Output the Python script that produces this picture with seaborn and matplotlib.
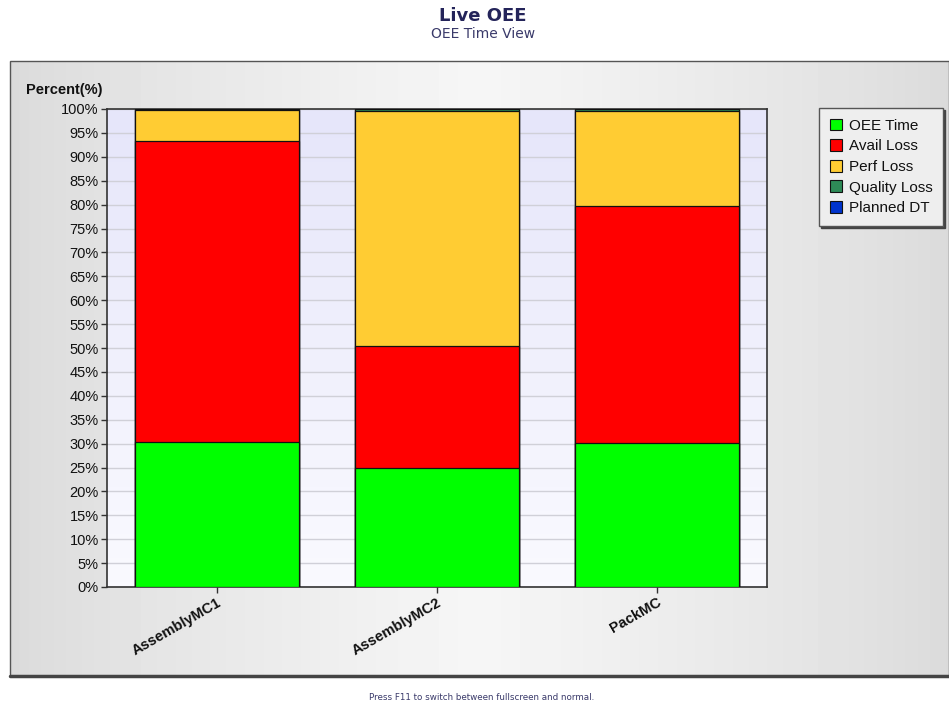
import numpy as np
import pandas as pd
import matplotlib
matplotlib.use("Agg")
import matplotlib.pyplot as plt
from matplotlib.patches import Rectangle, Patch
import seaborn as sns

# ---- data ----
machines = ["AssemblyMC1", "AssemblyMC2", "PackMC"]
series_names = ["OEE Time", "Avail Loss", "Perf Loss", "Quality Loss", "Planned DT"]
oee_time = [30.3, 24.9, 30.1]
avail_loss = [63.0, 25.5, 49.6]
perf_loss = [6.5, 49.2, 19.9]
quality_loss = [0.2, 0.4, 0.4]
planned_dt = [0.0, 0.0, 0.0]
series_colors = ["#00ff00", "#ff0000", "#ffcc33", "#2e8b57", "#0033cc"]
yticks = list(range(0, 101, 5))
ytick_labels = [f"{v}%" for v in yticks]

W, H = 949, 703
sns.set_theme(style="white")
plt.rcParams["font.family"] = ["Liberation Sans", "DejaVu Sans"]

fig = plt.figure(figsize=(W / 100, H / 100), dpi=100)
fig.patch.set_facecolor("white")

# outer panel with horizontal gradient
bg = fig.add_axes([0, 0, 1, 1], zorder=-10)
bg.set_xlim(0, W)
bg.set_ylim(H, 0)
bg.axis("off")
xs = np.linspace(0, 1, 300)
prof = 1 - np.abs(xs - 0.5) * 2
vals = 0.855 + 0.11 * prof ** 0.8
grad = np.tile(vals, (10, 1))
bg.imshow(grad, cmap="gray", vmin=0, vmax=1, extent=[10, W, 676, 61], aspect="auto", zorder=0)
bg.add_patch(Rectangle((10, 61), W - 10, 615, fill=False, edgecolor="#555555", lw=1.0, zorder=1))
bg.plot([10, W], [675.5, 675.5], color="#444444", lw=2.5, zorder=2)

# plot area
ax = fig.add_axes([107 / W, 1 - 587 / H, 660 / W, 478 / H], zorder=1)
ax.set_facecolor("none")
ax.imshow(np.linspace(0, 1, 100).reshape(-1, 1),
          cmap=matplotlib.colors.LinearSegmentedColormap.from_list("pa", ["#e6e6fa", "#fafaff"]),
          extent=[-0.5, 2.5, 0, 100], aspect="auto", zorder=0)

df = pd.DataFrame({"machine": machines, "OEE Time": oee_time, "Avail Loss": avail_loss,
                   "Perf Loss": perf_loss, "Quality Loss": quality_loss, "Planned DT": planned_dt})
cum = df[series_names].cumsum(axis=1)
for name, col in reversed(list(zip(series_names, series_colors))):
    sns.barplot(data=pd.DataFrame({"machine": machines, "v": cum[name]}), x="machine", y="v",
                color=col, saturation=1, width=0.745, edgecolor="#111111", linewidth=0.9,
                ax=ax, zorder=3)

ax.set_xlim(-0.5, 2.5)
ax.set_ylim(0, 100)
ax.set_yticks(yticks)
ax.set_yticklabels(ytick_labels, fontsize=10.5, color="#111111")
ax.yaxis.grid(True, color="#d0d0d8", lw=1.0, zorder=1)
ax.set_axisbelow(True)
ax.set_xlabel("")
ax.set_ylabel("")
ax.tick_params(axis="both", which="both", length=4, width=1, color="#333333", left=True, bottom=True, pad=2)
ax.set_xticks(range(len(machines)))
ax.set_xticklabels(machines, rotation=30, ha="right", rotation_mode="anchor",
                   fontsize=10.5, fontweight="bold", color="#111111")
for s in ax.spines.values():
    s.set_color("#333333")
    s.set_linewidth(1.2)
    s.set_visible(True)

fig.text(26 / W, 1 - 90 / H, "Percent(%)", fontsize=10.5, fontweight="bold", color="#111111",
         ha="left", va="center")

# titles
fig.text(483 / W, 1 - 16 / H, "Live OEE", fontsize=13, fontweight="bold", color="#24245a",
         ha="center", va="center", family="DejaVu Sans")
fig.text(483 / W, 1 - 34 / H, "OEE Time View", fontsize=10, color="#3a3a6a",
         ha="center", va="center", family="DejaVu Sans")
fig.text(482 / W, 1 - 697 / H, "Press F11 to switch between fullscreen and normal.", fontsize=6.3,
         color="#3a3a6a", ha="center", va="center", family="DejaVu Sans")

# legend
handles = [Patch(facecolor=c, edgecolor="#111111", lw=0.8, label=n) for n, c in zip(series_names, series_colors)]
leg = fig.legend(handles=handles, loc="upper left", bbox_to_anchor=(819 / W, 1 - 108 / H),
                 fontsize=11, frameon=True, fancybox=False,
                 shadow={"color": "#444444", "alpha": 1, "ox": 1.5, "oy": -1.5},
                 handlelength=0.8, handleheight=0.8, handletextpad=0.45, labelspacing=0.42,
                 borderpad=0.7, borderaxespad=0)
leg.get_frame().set_edgecolor("#555555")
leg.get_frame().set_facecolor("#eeeeee")
leg.get_frame().set_linewidth(1.0)
for t in leg.get_texts():
    t.set_color("#111111")

fig.savefig("out.png", dpi=100)
